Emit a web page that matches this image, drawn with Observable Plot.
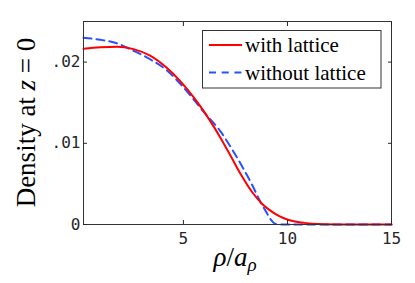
<!DOCTYPE html>
<html>
<head>
<meta charset="utf-8">
<script src="https://cdn.jsdelivr.net/npm/d3@7"></script>
<script src="https://cdn.jsdelivr.net/npm/@observablehq/plot@0.6"></script>
<style>
  html, body { margin: 0; padding: 0; background: #fff; }
  #chart { width: 415px; height: 283px; }
</style>
</head>
<body>
<div id="chart"></div>
<script>
// Data
const rhoWith  = [0.2, 1.0, 1.8, 2.6, 3.4, 4.2, 5.2, 5.8, 6.3, 6.8, 7.3, 7.8, 8.3, 8.8, 9.3, 9.8, 10.3, 10.8, 11.5, 12.5, 13.5, 15.0];
const densWith = [0.02165, 0.02182, 0.0219, 0.0216, 0.0208, 0.0193, 0.0166, 0.0146, 0.0127, 0.0106, 0.0083, 0.0060, 0.0040, 0.0025, 0.0015, 0.0008, 0.0004, 0.0002, 0.00006, 0.00001, 0, 0];
const rhoWithout  = [0.2, 1.0, 1.8, 2.6, 3.4, 4.2, 5.0, 6.0, 6.8, 7.4, 7.9, 8.3, 8.7, 9.0, 9.2, 9.4, 9.6, 15.0];
const densWithout = [0.0230, 0.02275, 0.02232, 0.0214, 0.02035, 0.0190, 0.0169, 0.0138, 0.0114, 0.0090, 0.0068, 0.0049, 0.0028, 0.00145, 0.0006, 0.0001, 0, 0];

const xTicks = [5, 10, 15];
const yTicks = [0, 0.01, 0.02];
const yTickLabels = ["0", ".01", ".02"];
const seriesNames = ["with lattice", "without lattice"];
const seriesColors = ["#ff0000", "#2850ff"];

const withData = rhoWith.map((r, i) => ({rho: r, n: densWith[i]}));
const withoutData = rhoWithout.map((r, i) => ({rho: r, n: densWithout[i]}));

const tickFont = {fontFamily: "DejaVu Sans Mono", fontSize: 16, fill: "#262626"};

const chart = Plot.plot({
  width: 415,
  height: 283,
  marginLeft: 83,
  marginRight: 24,
  marginTop: 21,
  marginBottom: 59,
  style: {background: "#fff", color: "#262626", fontFamily: "DejaVu Sans Mono"},
  x: {domain: [0.2, 15]},
  y: {domain: [0, 0.025]},
  marks: [
    Plot.line(withoutData, {x: "rho", y: "n", stroke: seriesColors[1], strokeWidth: 2, strokeDasharray: "8,5", curve: "monotone-x"}),
    Plot.line(withData, {x: "rho", y: "n", stroke: seriesColors[0], strokeWidth: 2, curve: "monotone-x"}),
    Plot.frame({stroke: "#333", strokeWidth: 1}),
    Plot.axisX({ticks: xTicks, tickSize: -4, tickPadding: 12, label: null, tickFormat: d => String(d), ...tickFont}),
    Plot.axisX({anchor: "top", ticks: xTicks, tickSize: -4, label: null, tickFormat: () => ""}),
    Plot.axisY({ticks: yTicks, tickSize: -4, tickPadding: 7, label: null, tickFormat: d => yTickLabels[yTicks.indexOf(d)], ...tickFont}),
    Plot.axisY({anchor: "right", ticks: yTicks, tickSize: -4, label: null, tickFormat: () => ""})
  ]
});

document.getElementById("chart").appendChild(chart);

const svg = d3.select(chart);
const serif = "Liberation Serif";

// Y axis label
const yl = svg.append("text")
  .attr("transform", "translate(35,122.5) rotate(-90)")
  .attr("text-anchor", "middle")
  .attr("font-family", serif)
  .attr("font-size", 27)
  .attr("fill", "#000");
yl.append("tspan").text("Density at ");
yl.append("tspan").attr("font-style", "italic").text("z");
yl.append("tspan").text(" = 0");

// X axis label
const xl = svg.append("text")
  .attr("x", 235).attr("y", 266)
  .attr("text-anchor", "middle")
  .attr("font-family", serif)
  .attr("font-size", 27)
  .attr("fill", "#000");
xl.append("tspan").attr("font-style", "italic").text("ρ");
xl.append("tspan").text("/");
xl.append("tspan").attr("font-style", "italic").text("a");
xl.append("tspan").attr("font-style", "italic").attr("font-size", 19).attr("dy", 5).text("ρ");

// Legend
const lg = svg.append("g");
lg.append("rect").attr("x", 202.5).attr("y", 30.5).attr("width", 178.5).attr("height", 57.5)
  .attr("fill", "#fff").attr("stroke", "#333").attr("stroke-width", 1);
const rowsY = [45, 72.5];
seriesNames.forEach((name, i) => {
  lg.append("line").attr("x1", 209).attr("x2", 242).attr("y1", rowsY[i]).attr("y2", rowsY[i])
    .attr("stroke", seriesColors[i]).attr("stroke-width", 2)
    .attr("stroke-dasharray", i === 1 ? "7,5.7" : null);
  lg.append("text").attr("x", 245).attr("y", rowsY[i] + 7)
    .attr("text-anchor", "start")
    .attr("font-family", serif).attr("font-size", 21).attr("fill", "#000")
    .text(name);
});
</script>
</body>
</html>
